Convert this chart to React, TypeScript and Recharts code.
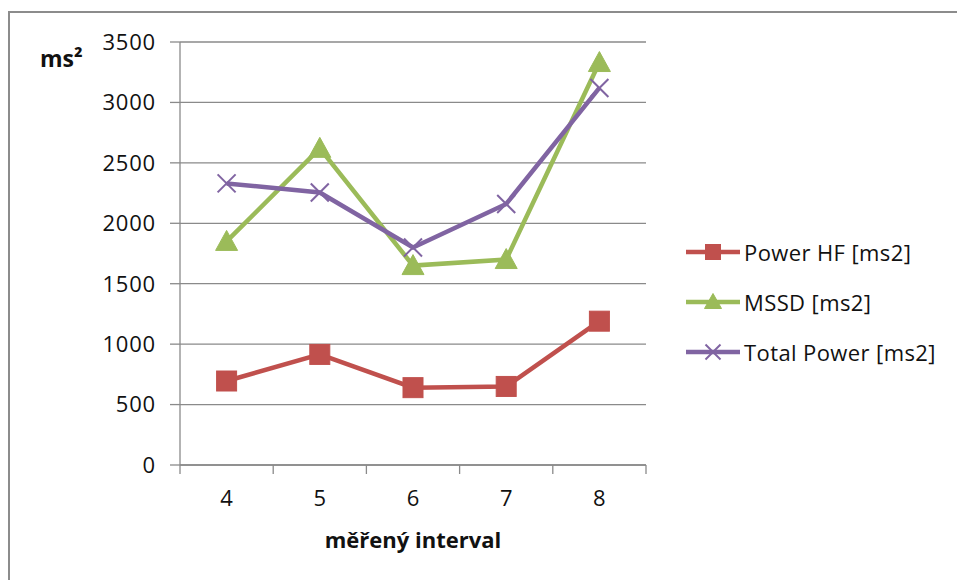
import React from 'react';
import {
  LineChart,
  Line,
  XAxis,
  YAxis,
  CartesianGrid,
  Label,
} from 'recharts';

// Measured intervals (x axis categories)
const intervals = [4, 5, 6, 7, 8];

// Series values in ms²
const powerHF = [695, 915, 640, 650, 1190];
const mssd = [1850, 2620, 1650, 1700, 3330];
const totalPower = [2330, 2255, 1800, 2160, 3120];

// Y axis tick labels
const yTicks = [0, 500, 1000, 1500, 2000, 2500, 3000, 3500];

const seriesNames = ['Power HF [ms2]', 'MSSD [ms2]', 'Total Power [ms2]'];

const FONT = '"Open Sans", "Liberation Sans", Arial, sans-serif';
const GRID = '#8a8a8a';
const RED = '#C0504D';
const GREEN = '#9BBB59';
const PURPLE = '#8064A2';

const data = intervals.map((interval, i) => ({
  interval,
  hf: powerHF[i],
  mssd: mssd[i],
  total: totalPower[i],
}));

// Tick lines sit between categories, labels sit on the categories
const xTicks = intervals
  .flatMap((c) => [c - 0.5, c])
  .concat(intervals[intervals.length - 1] + 0.5);

type Shape = 'square' | 'triangle' | 'cross';

function Marker({ cx, cy, shape, color, size }: { cx: number; cy: number; shape: Shape; color: string; size: number }) {
  if (cx == null || cy == null) return null;
  const h = size / 2;
  if (shape === 'square') {
    return <rect x={cx - h} y={cy - h} width={size} height={size} fill={color} stroke={color} strokeWidth={1} />;
  }
  if (shape === 'triangle') {
    const pts = `${cx},${cy - h - 1} ${cx - h - 1},${cy + h - 1} ${cx + h + 1},${cy + h - 1}`;
    return <polygon points={pts} fill={color} stroke={color} strokeWidth={1} />;
  }
  return (
    <g stroke={color} strokeWidth={size > 14 ? 2 : 1.5}>
      <line x1={cx - h} y1={cy - h} x2={cx + h} y2={cy + h} />
      <line x1={cx - h} y1={cy + h} x2={cx + h} y2={cy - h} />
    </g>
  );
}

const makeDot = (shape: Shape, color: string, size: number) => (props: any) => (
  <Marker key={`${shape}-${props.index}`} cx={props.cx} cy={props.cy} shape={shape} color={color} size={size} />
);

function XTick(props: any) {
  const { x, y, payload } = props;
  const v = payload.value as number;
  if (Number.isInteger(v)) {
    return (
      <text x={x} y={y + 35} textAnchor="middle" dominantBaseline="middle" fontFamily={FONT} fontSize={22} fill="#111">
        {v}
      </text>
    );
  }
  return <line x1={x} y1={y} x2={x} y2={y + 9} stroke={GRID} strokeWidth={1.3} />;
}

const legendItems: { name: string; color: string; shape: Shape }[] = [
  { name: seriesNames[0], color: RED, shape: 'square' },
  { name: seriesNames[1], color: GREEN, shape: 'triangle' },
  { name: seriesNames[2], color: PURPLE, shape: 'cross' },
];

function SeriesLegend() {
  return (
    <div style={{ position: 'absolute', left: 686, top: 227, fontFamily: FONT, fontSize: 22, color: '#111' }}>
      {legendItems.map((it) => (
        <div key={it.name} style={{ display: 'flex', alignItems: 'center', height: 50 }}>
          <svg width={58} height={20} style={{ display: 'block' }}>
            <line x1={0} y1={10} x2={54} y2={10} stroke={it.color} strokeWidth={4.5} />
            <Marker cx={27} cy={10} shape={it.shape} color={it.color} size={15} />
          </svg>
          <span style={{ whiteSpace: 'nowrap', letterSpacing: 0.4 }}>{it.name}</span>
        </div>
      ))}
    </div>
  );
}

export default function App() {
  return (
    <div style={{ position: 'absolute', left: 0, top: 0, width: 957, height: 580, overflow: 'hidden', background: '#fff' }}>
      <div
        style={{
          position: 'absolute',
          left: 8,
          top: 11,
          width: 1000,
          height: 700,
          borderLeft: '2px solid #8c8c8c',
          borderTop: '2px solid #8c8c8c',
        }}
      />
      <div style={{ position: 'absolute', left: 0, top: 0 }}>
        <LineChart width={957} height={580} data={data} margin={{ top: 42, right: 311, bottom: 0, left: 100 }}>
          <CartesianGrid horizontal vertical={false} stroke={GRID} strokeWidth={1.3} />
          <XAxis
            dataKey="interval"
            type="number"
            domain={[3.5, 8.5]}
            ticks={xTicks}
            interval={0}
            height={115}
            tickSize={0}
            tickMargin={0}
            tickLine={false}
            axisLine={{ stroke: GRID, strokeWidth: 1.3 }}
            tick={<XTick />}
          >
            <Label
              content={({ viewBox }: any) => (
                <text
                  x={viewBox.x + viewBox.width / 2}
                  y={viewBox.y + 83}
                  textAnchor="middle"
                  fontFamily={FONT}
                  fontWeight="bold"
                  fontSize={22}
                  fill="#111"
                >
                  měřený interval
                </text>
              )}
            />
          </XAxis>
          <YAxis
            type="number"
            domain={[0, 3500]}
            ticks={yTicks}
            interval={0}
            width={80}
            tickSize={10}
            tickMargin={14}
            tickLine={{ stroke: GRID, strokeWidth: 1.3 }}
            axisLine={{ stroke: GRID, strokeWidth: 1.3 }}
            tick={{ fontFamily: FONT, fontSize: 22, fill: '#111', letterSpacing: 0.8 }}
          >
            <Label
              content={({ viewBox }: any) => (
                <text x={viewBox.x - 60} y={viewBox.y + 25} fontFamily={FONT} fontWeight="bold" fontSize={23} fill="#111">
                  ms²
                </text>
              )}
            />
          </YAxis>
          <Line
            name={seriesNames[0]}
            dataKey="hf"
            stroke={RED}
            strokeWidth={4.5}
            dot={makeDot('square', RED, 20)}
            activeDot={false}
            isAnimationActive={false}
          />
          <Line
            name={seriesNames[1]}
            dataKey="mssd"
            stroke={GREEN}
            strokeWidth={4.5}
            dot={makeDot('triangle', GREEN, 20)}
            activeDot={false}
            isAnimationActive={false}
          />
          <Line
            name={seriesNames[2]}
            dataKey="total"
            stroke={PURPLE}
            strokeWidth={4.5}
            dot={makeDot('cross', PURPLE, 18)}
            activeDot={false}
            isAnimationActive={false}
          />
        </LineChart>
      </div>
      <SeriesLegend />
    </div>
  );
}
